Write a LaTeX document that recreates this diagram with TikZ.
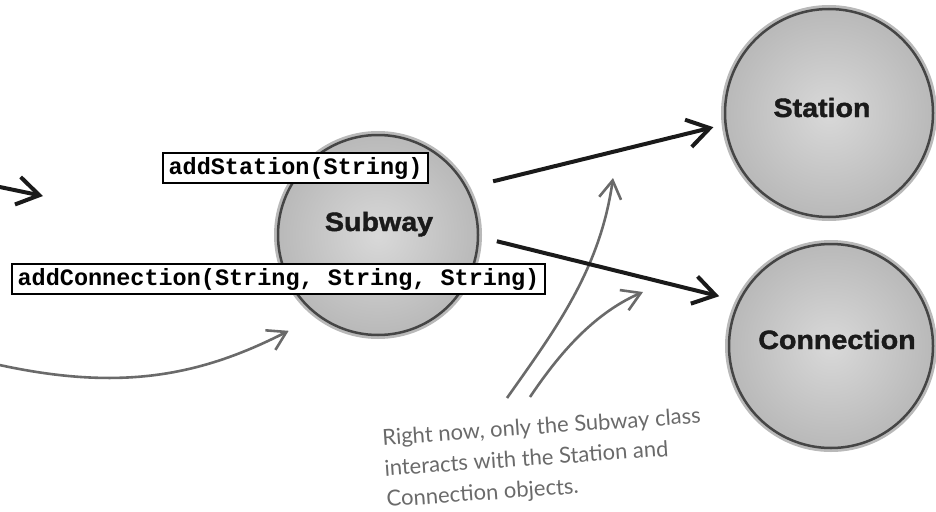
\documentclass[tikz,border=0pt]{standalone}
\usepackage{fontspec}
\usetikzlibrary{arrows.meta,calc}
\newfontfamily\circfont[FakeStretch=1.08, BoldFeatures={FakeBold=1.6}]{Liberation Sans}
\newfontfamily\codefont{Liberation Mono}
\newfontfamily\handfont{Lato}
\definecolor{handgray}{HTML}{6A6A6A}
\definecolor{rim}{HTML}{454545}
\definecolor{ink}{HTML}{1A1A1A}
\tikzset{
  ball/.style={circle, minimum size=#1, inner sep=0pt, outer sep=0pt,
    preaction={draw=gray!55, line width=8pt},
    draw=rim, line width=2.5pt, shading=radial, inner color=gray!30, outer color=gray!55},
  circlabel/.style={font=\circfont\bfseries\fontsize{26.5}{30}\selectfont, text=ink, inner sep=0pt, anchor=base},
  methodbox/.style={draw=black, line width=2pt, fill=white,
    font=\codefont\bfseries\fontsize{23.5}{26}\selectfont,
    inner xsep=6pt, inner ysep=0pt, minimum height=30pt, text height=16pt, text depth=4pt},
  blackarrow/.style={line width=4pt, draw=ink, -{Straight Barb[length=22pt,width=28pt]}},
  grayarrow/.style={line width=2.6pt, draw=handgray, -{Straight Barb[length=18pt,width=22pt]}},
  handtext/.style={font=\handfont\fontsize{22}{31}\selectfont, text=handgray, inner sep=0pt, align=left, anchor=base west, rotate=4}
}
\begin{document}
\begin{tikzpicture}[x=1pt,y=-1pt]
\useasboundingbox (0,0) rectangle (936,511);

% circles
\node[ball=200pt] (subway) at (378,235) {};
\node[ball=208pt] (station) at (829,113) {};
\node[ball=204pt] (connection) at (831,346) {};
\node[circlabel] (subwaylabel) at (379,231) {Subway};
\node[circlabel] (stationlabel) at (822,117) {Station};
\node[circlabel] (connectionlabel) at (837,349) {Connection};

% method boxes
\node[methodbox] (addstation) at (295.5,168) {addStation(String)};
\node[methodbox] (addconn) at (278.5,279) {addConnection(String, String, String)};

% gray hand-drawn arrows
\coordinate (curvestart) at (-5,364);
\draw[grayarrow] (curvestart) .. controls (120,392) and (200,376) .. ($(subway.center)!1.31!(subway.227)$);

\coordinate (t1) at (507,398);
\coordinate (t1tip) at (613,178);
\coordinate (t2) at (530,397);
\coordinate (t2tip) at (643,292);
\draw[grayarrow] (t1) .. controls (555,330) and (600,270) .. (t1tip);
\draw[grayarrow] (t2) .. controls (555,360) and (590,315) .. (t2tip);

% black arrows
\coordinate (lstart) at (-5,186);
\coordinate (lend) at (43,196);
\draw[blackarrow] (lstart) -- (lend);
\draw[blackarrow] ($(subway.center)!1.27!(subway.25)$) -- ($(station.center)!1.12!(station.187)$);
\draw[blackarrow] ($(subway.center)!1.19!(subway.-3.4)$) -- ($(connection.center)!1.2!(connection.156.6)$);

% note
\node[handtext] (note) at (387,507) {Right now, only the Subway class\\interacts with the Station and\\Connection objects.};
\end{tikzpicture}
\end{document}
